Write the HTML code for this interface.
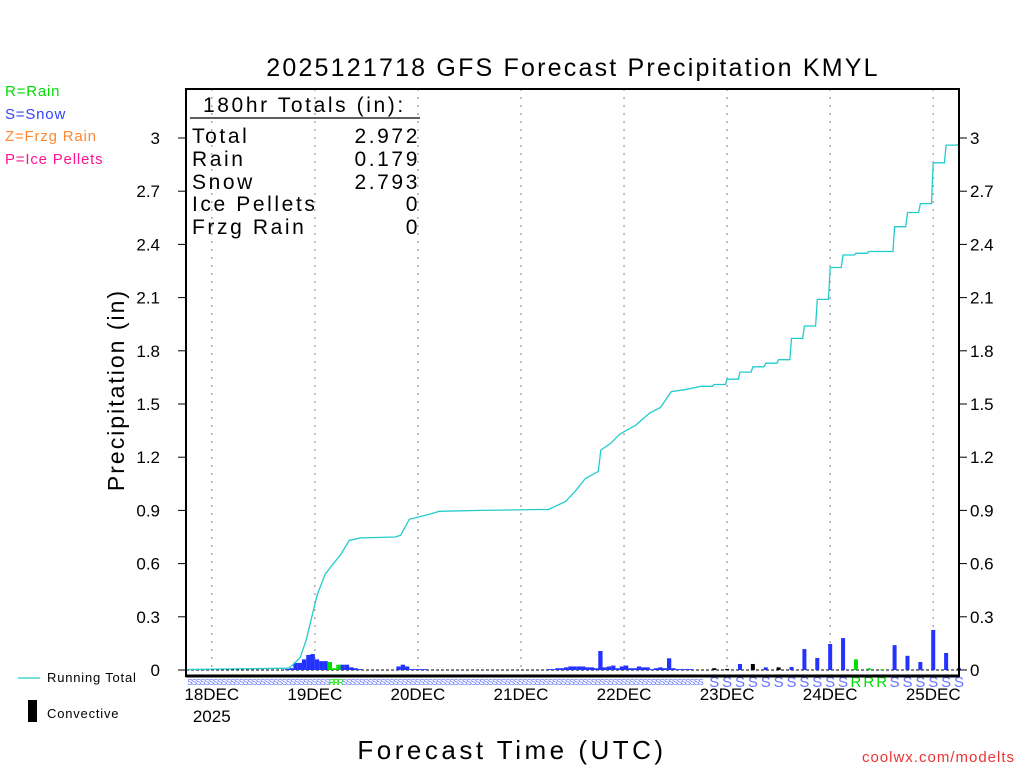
<!DOCTYPE html>
<html><head><meta charset="utf-8"><style>
html,body{margin:0;padding:0;background:#fff;}
svg{display:block;font-family:"Liberation Sans",sans-serif;}
</style></head><body>
<svg id="chart" width="1024" height="768" viewBox="0 0 1024 768">
<text x="573" y="76" text-anchor="middle" font-size="25" letter-spacing="2.2">2025121718 GFS Forecast Precipitation KMYL</text>
<g font-size="15" letter-spacing="0.8">
<text x="5" y="96" fill="#00dd00">R=Rain</text>
<text x="5" y="119" fill="#3344ff">S=Snow</text>
<text x="5" y="141" fill="#ff8833">Z=Frzg Rain</text>
<text x="5" y="164" fill="#ff1493">P=Ice Pellets</text>
</g>
<g id="grid"></g>
<g id="bars"></g>
<path id="line" fill="none" stroke="#22cccc" stroke-width="1.3"></path>
<g id="types" font-size="11"></g>
<g id="axes" font-size="17"></g>
<rect x="186" y="89" width="773" height="587" fill="none" stroke="#000" stroke-width="2"/>
<line x1="186" y1="676" x2="959" y2="676" stroke="#000" stroke-width="3"/>
<g font-size="21" letter-spacing="2.6">
<text x="203" y="112">180hr Totals (in):</text>
<line x1="190" y1="118" x2="420" y2="118" stroke="#000" stroke-width="1.2"/>
<text x="192" y="143">Total</text><text x="420" y="143" text-anchor="end">2.972</text>
<text x="192" y="166">Rain</text><text x="420" y="166" text-anchor="end">0.179</text>
<text x="192" y="189">Snow</text><text x="420" y="189" text-anchor="end">2.793</text>
<text x="192" y="211">Ice Pellets</text><text x="420" y="211" text-anchor="end">0</text>
<text x="192" y="234">Frzg Rain</text><text x="420" y="234" text-anchor="end">0</text>
</g>
<text transform="translate(124,390) rotate(-90)" text-anchor="middle" font-size="23" letter-spacing="2">Precipitation (in)</text>
<text x="512" y="759" text-anchor="middle" font-size="26" letter-spacing="3.5">Forecast Time (UTC)</text>
<text x="1015" y="762" text-anchor="end" font-size="15" fill="#ee3333" letter-spacing="1">coolwx.com/modelts</text>
<line x1="18" y1="678" x2="40" y2="678" stroke="#22cccc" stroke-width="1.3"/>
<text x="47" y="682" font-size="13" letter-spacing="0.8">Running Total</text>
<rect x="28" y="700" width="9" height="22" fill="#000"/>
<text x="47" y="718" font-size="13" letter-spacing="0.8">Convective</text>
</svg>
<script>
const yTicks=[0,0.3,0.6,0.9,1.2,1.5,1.8,2.1,2.4,2.7,3];
const dayLabels=["18DEC","19DEC","20DEC","21DEC","22DEC","23DEC","24DEC","25DEC"];
const dayHours=[6,30,54,78,102,126,150,174];
const totalHours=[0,24,26.6,28,30.5,32.4,34,36,38,40.6,48.7,50,52,57,59,68.6,82.6,84.4,88.4,90.7,93,96,96.6,99,101,104.7,108,110.5,113,116,120,123,126,129,132,135,138,141,144,147,150,153,156,159,162,165,168,171,174,177,180];
const totalVals=[0.003,0.01,0.07,0.17,0.42,0.54,0.59,0.65,0.73,0.745,0.75,0.76,0.85,0.88,0.895,0.9,0.905,0.905,0.95,1.01,1.08,1.12,1.24,1.28,1.33,1.38,1.45,1.48,1.57,1.58,1.6,1.61,1.64,1.68,1.71,1.73,1.75,1.87,1.94,2.09,2.27,2.34,2.35,2.36,2.36,2.5,2.58,2.63,2.86,2.96,2.97];
const hourlyBars={24:0.005,25:0.01,26:0.04,27:0.04,28:0.06,29:0.085,30:0.09,31:0.06,32:0.05,33:0.05,34:0.045,35:0.01,36:0.03,37:0.03,38:0.03,39:0.015,40:0.01,41:0.005,50:0.02,51:0.03,52:0.02,53:0.005,54:0.005,55:0.005,56:0.005,85:0.005,86:0.005,87:0.01,88:0.01,89:0.015,90:0.02,91:0.02,92:0.02,93:0.02,94:0.015,95:0.015,96:0.01,97:0.107,98:0.015,99:0.02,100:0.025,101:0.01,102:0.02,103:0.025,104:0.01,105:0.01,106:0.02,107:0.015,108:0.015,109:0.005,110:0.01,111:0.015,112:0.01,113:0.066,114:0.01,115:0.005,116:0.005,117:0.005,118:0.005};
const rainHours=[34,35,36,156,159,162];
const convectiveHours=[123,126,132,138];
const threeHourly=[0.01,0.006,0.034,0.034,0.015,0.015,0.017,0.118,0.068,0.147,0.18,0.06,0.01,0.004,0.14,0.08,0.045,0.226,0.096,0.01];
const NS="http://www.w3.org/2000/svg";
const X0=186,X1=959,Y0=670,YTOP=138;
const xs=h=>X0+h*(X1-X0)/180;
const ys=v=>Y0-v*(Y0-YTOP)/3;
function mk(tag,attrs,parent){const e=document.createElementNS(NS,tag);for(const k in attrs)e.setAttribute(k,attrs[k]);parent.appendChild(e);return e;}
const grid=document.getElementById('grid'),axes=document.getElementById('axes'),bars=document.getElementById('bars'),types=document.getElementById('types');
dayHours.forEach((h,i)=>{
 const g=mk('line',{x1:xs(h),x2:xs(h),y1:89,y2:670,stroke:'#aaa','stroke-dasharray':'2,6','stroke-width':1.5},grid);
 
 
 const t=mk('text',{x:xs(h),y:700,'text-anchor':'middle'},axes);t.textContent=dayLabels[i];
 
 
});
const yr=mk('text',{x:xs(6),y:722,'text-anchor':'middle'},axes);yr.textContent="2025";


mk('line',{x1:186,x2:959,y1:670,y2:670,stroke:'#000','stroke-dasharray':'3,2'},grid);
yTicks.forEach(v=>{
 const y=ys(v);
 mk('line',{x1:178,x2:186,y1:y,y2:y,stroke:'#000'},axes);
 mk('line',{x1:959,x2:967,y1:y,y2:y,stroke:'#000'},axes);
 const l=mk('text',{x:160,y:y+6,'text-anchor':'end'},axes);l.textContent=String(v);
 
 
 const r=mk('text',{x:970,y:y+6},axes);r.textContent=String(v);
 
 
});
function bar(h,v,w){
 const rain=rainHours.includes(Math.round(h+0.5))&&h<120||rainHours.includes(h),conv=convectiveHours.includes(h);
 const col=conv?'#000':(rain?'#00dd00':'#2233ff');
 const b=mk('rect',{x:xs(h)-w/2,y:ys(v),width:w,height:Y0-ys(v),fill:col},bars);
 
 
}
for(const k in hourlyBars)bar(+k-0.5,hourlyBars[k],4.3);
threeHourly.forEach((v,i)=>bar(123+3*i,v,4));
for(let h=1;h<=120;h++){const rn=rainHours.includes(h);const t=mk('text',{x:xs(h)-3,y:685,fill:rn?'#00dd00':'#6677ff','font-size':8},types);t.textContent=rn?'R':'S';}
for(let i=0;i<20;i++){const h=123+3*i;const rn=rainHours.includes(h);const t=mk('text',{x:xs(h),y:687,'text-anchor':'middle',fill:rn?'#00dd00':'#6677ff','font-size':15},types);t.textContent=rn?'R':'S';}
let d='';
totalHours.forEach((h,i)=>{
 if(i===0){d+='M'+xs(h).toFixed(1)+','+ys(totalVals[i]).toFixed(1);return;}
 if(h>120){d+=' L'+xs(h-0.4).toFixed(1)+','+ys(totalVals[i-1]).toFixed(1);}
 d+=' L'+xs(h).toFixed(1)+','+ys(totalVals[i]).toFixed(1);
});
document.getElementById('line').setAttribute('d',d);
</script>
</body></html>
